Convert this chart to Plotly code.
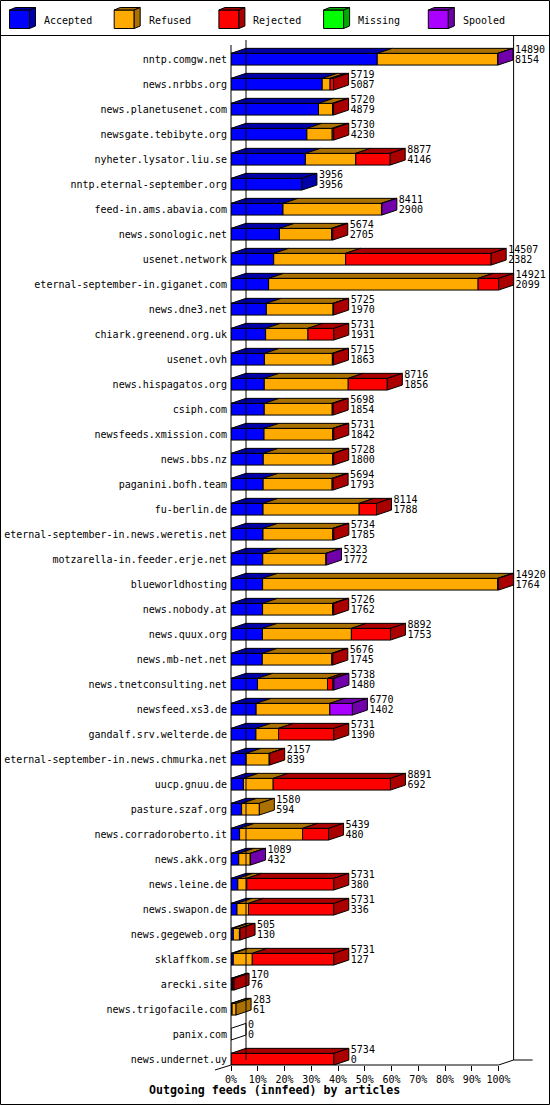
import plotly.graph_objects as go

# ---------------- data ----------------
hosts = [
    "nntp.comgw.net", "news.nrbbs.org", "news.planetusenet.com", "newsgate.tebibyte.org",
    "nyheter.lysator.liu.se", "nntp.eternal-september.org", "feed-in.ams.abavia.com",
    "news.sonologic.net", "usenet.network", "eternal-september-in.giganet.com", "news.dne3.net",
    "chiark.greenend.org.uk", "usenet.ovh", "news.hispagatos.org", "csiph.com",
    "newsfeeds.xmission.com", "news.bbs.nz", "paganini.bofh.team", "fu-berlin.de",
    "eternal-september-in.news.weretis.net", "motzarella-in.feeder.erje.net", "blueworldhosting",
    "news.nobody.at", "news.quux.org", "news.mb-net.net", "news.tnetconsulting.net",
    "newsfeed.xs3.de", "gandalf.srv.welterde.de", "eternal-september-in.news.chmurka.net",
    "uucp.gnuu.de", "pasture.szaf.org", "news.corradoroberto.it", "news.akk.org",
    "news.leine.de", "news.swapon.de", "news.gegeweb.org", "sklaffkom.se", "arecki.site",
    "news.trigofacile.com", "panix.com", "news.undernet.uy",
]
accepted = [8154, 5087, 4879, 4230, 4146, 3956, 2900, 2705, 2382, 2099, 1970, 1931, 1863, 1856,
            1854, 1842, 1800, 1793, 1788, 1785, 1772, 1764, 1762, 1753, 1745, 1480, 1402, 1390,
            839, 692, 594, 480, 432, 380, 336, 130, 127, 76, 61, 0, 0]
refused = [6726, 440, 781, 1412, 2810, 0, 5490, 2900, 4010, 11680, 3720, 2360, 3790, 4680,
           3790, 3830, 3870, 3845, 5360, 3890, 3520, 13100, 3905, 4960, 3875, 3900, 4110, 1260,
           1290, 1660, 986, 3510, 640, 500, 640, 340, 1060, 20, 222, 0, 0]
rejected = [0, 192, 60, 88, 1921, 0, 0, 69, 8115, 1142, 35, 1440, 62, 2180,
            54, 59, 58, 56, 966, 59, 0, 56, 59, 2179, 56, 300, 0, 3081,
            28, 6539, 0, 1449, 0, 4851, 4755, 35, 4544, 74, 0, 0, 5734]
missing = [0, 0, 0, 0, 0, 0, 0, 0, 0, 0, 0, 0, 0, 0,
           0, 0, 0, 0, 0, 0, 0, 0, 0, 0, 0, 0, 0, 0,
           0, 0, 0, 0, 0, 0, 0, 0, 0, 0, 0, 0, 0]
spooled = [10, 0, 0, 0, 0, 0, 21, 0, 0, 0, 0, 0, 0, 0,
           0, 0, 0, 0, 0, 0, 31, 0, 0, 0, 0, 58, 1258, 0,
           0, 0, 0, 0, 17, 0, 0, 0, 0, 0, 0, 0, 0]

series_names = ["Accepted", "Refused", "Rejected", "Missing", "Spooled"]
series_values = [accepted, refused, rejected, missing, spooled]
front_colors = ["#0000ff", "#ffaa00", "#ff0000", "#00ff00", "#aa00ff"]
shade_colors = ["#0000aa", "#aa7100", "#aa0000", "#00aa00", "#7100aa"]
x_tick_values = [0, 10, 20, 30, 40, 50, 60, 70, 80, 90, 100]
x_tick_labels = [f"{v}%" for v in x_tick_values]
title_text = "Outgoing feeds (innfeed) by articles"

# ---------------- geometry ----------------
W, H = 550, 1105
ML, MT, MB, MR = 231, 35, 40, 0
PW, PH = W - ML - MR, H - MT - MB
PX_PER_PCT = 2.676          # pixels per percent of the largest total
ROW_PX = 25.0               # pixels per row
FIRST_ROW_PX = 59.2         # pixel centre of the first row
DEPTH_X, DEPTH_Y = 15.0, 5.0
BAR_PX = 11.7

ddx = DEPTH_X / PX_PER_PCT
ddy = DEPTH_Y / ROW_PX
bw = BAR_PX / ROW_PX
y_top = (MT - FIRST_ROW_PX) / ROW_PX
y_bot = (MT + PH - FIRST_ROW_PX) / ROW_PX
x_max = PW / PX_PER_PCT

def pxx(p):  # pixel x -> paper
    return (p - ML) / PW

def pxy(p):  # pixel y -> paper
    return (MT + PH - p) / PH

n = len(hosts)
rows = list(range(n))
totals = [sum(s[i] for s in series_values) for i in rows]
maxT = max(totals)
pct = [[v / maxT * 100 for v in s] for s in series_values]

fig = go.Figure()

# front faces (stacked)
base = [0.0] * n
bases = []
for k, name in enumerate(series_names):
    bases.append(list(base))
    xs = [pct[k][i] if series_values[k][i] > 0 else None for i in rows]
    fig.add_trace(go.Bar(
        y=rows, x=xs, base=list(base), orientation="h", width=bw,
        marker=dict(color=front_colors[k], line=dict(color="black", width=1)),
        name=name, showlegend=False, hoverinfo="skip"))
    base = [base[i] + pct[k][i] for i in rows]

# top faces
for k in range(len(series_names)):
    px, py = [], []
    for i in rows:
        if series_values[k][i] <= 0:
            continue
        x0 = bases[k][i]
        x1 = x0 + pct[k][i]
        yt = i - bw / 2
        px += [x0, x1, x1 + ddx, x0 + ddx, x0, None]
        py += [yt, yt, yt - ddy, yt - ddy, yt, None]
    if px:
        fig.add_trace(go.Scatter(x=px, y=py, mode="lines", fill="toself",
                                 fillcolor=shade_colors[k], line=dict(color="black", width=1),
                                 showlegend=False, hoverinfo="skip"))

# side faces (last non-empty segment of each row, white if empty row)
side_groups = {}
for i in rows:
    last = None
    for k in range(len(series_names)):
        if series_values[k][i] > 0:
            last = k
    color = shade_colors[last] if last is not None else "#ffffff"
    xe = totals[i] / maxT * 100
    yt, yb = i - bw / 2, i + bw / 2
    g = side_groups.setdefault(color, ([], []))
    g[0].extend([xe, xe + ddx, xe + ddx, xe, xe, None])
    g[1].extend([yt, yt - ddy, yb - ddy, yb, yt, None])
for color, (gx, gy) in side_groups.items():
    fig.add_trace(go.Scatter(x=gx, y=gy, mode="lines", fill="toself", fillcolor=color,
                             line=dict(color="black", width=1), showlegend=False,
                             hoverinfo="skip"))

# value labels
lab_x = [t / maxT * 100 + ddx + 2.0 / PX_PER_PCT for t in totals]
fig.add_trace(go.Scatter(x=lab_x, y=[i - 0.348 for i in rows], mode="text",
                         text=[str(t) for t in totals], textposition="middle right",
                         textfont=dict(family="DejaVu Sans Mono", size=10, color="black"),
                         cliponaxis=False, showlegend=False, hoverinfo="skip"))
fig.add_trace(go.Scatter(x=lab_x, y=[i + 0.064 for i in rows], mode="text",
                         text=[str(a) for a in accepted], textposition="middle right",
                         textfont=dict(family="DejaVu Sans Mono", size=10, color="black"),
                         cliponaxis=False, showlegend=False, hoverinfo="skip"))

# ---------------- frame / walls ----------------
shapes = []
L = dict(color="black", width=1)
x0p = ML + 0.0
x100p = ML + 100 * PX_PER_PCT
def line(xa, ya, xb, yb):
    shapes.append(dict(type="line", xref="paper", yref="paper",
                       x0=pxx(xa), y0=pxy(ya), x1=pxx(xb), y1=pxy(yb), line=L))
# outer border & legend separator
line(0.5, 0.5, W - 0.5, 0.5)
line(0.5, 0.5, 0.5, H - 0.5)
line(W - 0.5, 0.5, W - 0.5, H - 0.5)
line(0.5, H - 0.5, W - 0.5, H - 0.5)
line(0.5, MT + 0.5, W - 0.5, MT + 0.5)
# front axis, back axis, right wall
floor_y = MT + PH
line(x0p, 45, x0p, floor_y)
line(x0p + DEPTH_X, 40, x0p + DEPTH_X, floor_y - DEPTH_Y)
line(x100p + DEPTH_X, MT, x100p + DEPTH_X, floor_y - DEPTH_Y)
# floor
line(x0p, floor_y, x100p, floor_y)
line(x100p, floor_y, x100p + DEPTH_X, floor_y - DEPTH_Y)
line(x100p + DEPTH_X, floor_y - DEPTH_Y, x100p + DEPTH_X + 19, floor_y - DEPTH_Y)
line(x0p - 16, floor_y + 5, x0p, floor_y)

# ---------------- legend (3D cubes) ----------------
annotations = []
for k, name in enumerate(series_names):
    lx = 9.5 + 104.7 * k
    ty, by_ = 10.0, 28.5
    shapes.append(dict(type="rect", xref="paper", yref="paper",
                       x0=pxx(lx), x1=pxx(lx + 20), y0=pxy(by_), y1=pxy(ty),
                       fillcolor=front_colors[k], line=L))
    top = (f"M {pxx(lx)},{pxy(ty)} L {pxx(lx + 20)},{pxy(ty)} L {pxx(lx + 26)},{pxy(ty - 2.5)} "
           f"L {pxx(lx + 6)},{pxy(ty - 2.5)} Z")
    side = (f"M {pxx(lx + 20)},{pxy(ty)} L {pxx(lx + 26)},{pxy(ty - 2.5)} L {pxx(lx + 26)},{pxy(by_ - 2.5)} "
            f"L {pxx(lx + 20)},{pxy(by_)} Z")
    for pth in (top, side):
        shapes.append(dict(type="path", xref="paper", yref="paper", path=pth,
                           fillcolor=shade_colors[k], line=L))
    annotations.append(dict(xref="paper", yref="paper", x=pxx(lx + 32.5), y=pxy(20),
                            text=name, showarrow=False, xanchor="left", yanchor="middle",
                            font=dict(family="DejaVu Sans Mono", size=10, color="black")))

annotations.append(dict(xref="paper", yref="paper", x=pxx(274), y=pxy(1090),
                        text=f"<b>{title_text}</b>", showarrow=False,
                        xanchor="center", yanchor="middle",
                        font=dict(family="DejaVu Sans Mono", size=11.6, color="black")))

fig.update_layout(
    width=W, height=H, margin=dict(l=ML, r=MR, t=MT, b=MB, pad=0),
    paper_bgcolor="white", plot_bgcolor="white", barmode="overlay",
    showlegend=False, shapes=shapes, annotations=annotations,
    xaxis=dict(range=[0, x_max], tickvals=x_tick_values, ticktext=x_tick_labels,
               ticks="outside", ticklen=5, tickcolor="black", tickwidth=1,
               showgrid=False, zeroline=False, showline=False, fixedrange=True,
               tickfont=dict(family="DejaVu Sans Mono", size=10, color="black")),
    yaxis=dict(range=[y_bot, y_top], tickvals=rows, ticktext=hosts, ticks="",
               ticklabelstandoff=3,
               showgrid=False, zeroline=False, showline=False, fixedrange=True,
               tickfont=dict(family="DejaVu Sans Mono", size=10, color="black")),
)

fig.write_html("out.html")
